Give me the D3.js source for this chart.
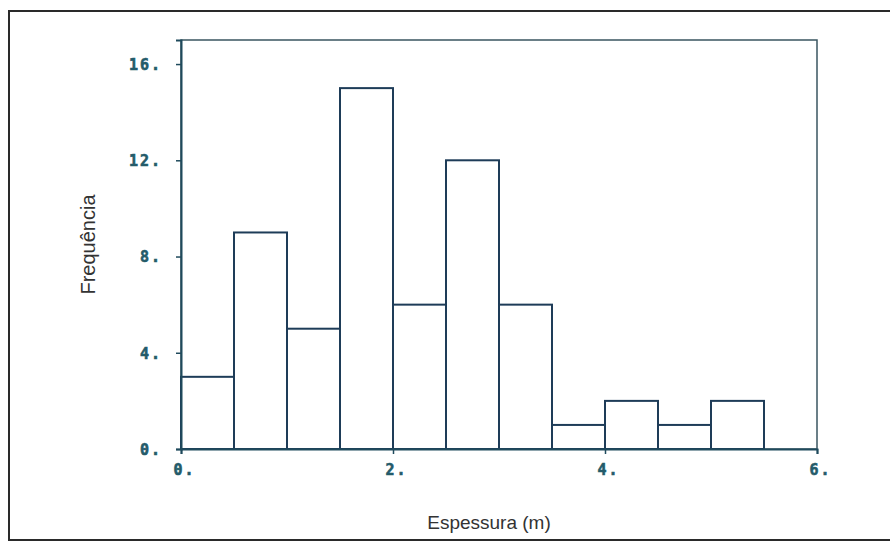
<!DOCTYPE html>
<html>
<head>
<meta charset="utf-8">
<script src="https://cdn.jsdelivr.net/npm/d3@7"></script>
<style>
  html, body { margin: 0; padding: 0; background: #ffffff; }
  svg { display: block; }
</style>
</head>
<body>
<svg id="chart" width="890" height="542"></svg>
<script>
// Histogram bins (thickness in metres) and their counts
const binStarts = [0, 0.5, 1.0, 1.5, 2.0, 2.5, 3.0, 3.5, 4.0, 4.5, 5.0];
const binWidth = 0.5;
const counts = [3, 9, 5, 15, 6, 12, 6, 1, 2, 1, 2];
const xTicks = [0, 2, 4, 6];
const yTicks = [0, 4, 8, 12, 16];
const xTitle = "Espessura (m)";
const yTitle = "Frequência";

const svg = d3.select("#chart");
const plot = { left: 181, right: 817, top: 40, bottom: 449 };

const x = d3.scaleLinear().domain([0, 6]).range([plot.left, plot.right]);
const y = d3.scaleLinear().domain([0, 17]).range([plot.bottom, plot.top]);

const inkAxis = "#1f4a5c";
const inkLabel = "#245b6a";

// outer frame (runs off the right edge)
svg.append("rect")
  .attr("x", 9).attr("y", 11)
  .attr("width", 900).attr("height", 529)
  .attr("fill", "none").attr("stroke", "#2a2a2a").attr("stroke-width", 2);

// plot box
svg.append("rect")
  .attr("x", plot.left).attr("y", plot.top)
  .attr("width", plot.right - plot.left).attr("height", plot.bottom - plot.top)
  .attr("fill", "none").attr("stroke", "#3a5560").attr("stroke-width", 1.5);

// bars
svg.append("g").selectAll("rect")
  .data(counts)
  .join("rect")
  .attr("x", (d, i) => x(binStarts[i]))
  .attr("y", d => y(d))
  .attr("width", (d, i) => x(binStarts[i] + binWidth) - x(binStarts[i]))
  .attr("height", d => y(0) - y(d))
  .attr("fill", "none")
  .attr("stroke", "#1e3c58")
  .attr("stroke-width", 2);

const fmt = d => d + ".";

// y axis
const yAxis = svg.append("g")
  .attr("transform", `translate(${plot.left},0)`)
  .call(d3.axisLeft(y).tickValues(yTicks).tickFormat(fmt).tickSize(5).tickPadding(14));
// x axis
const xAxis = svg.append("g")
  .attr("transform", `translate(0,${plot.bottom})`)
  .call(d3.axisBottom(x).tickValues(xTicks).tickFormat(fmt).tickSize(5).tickPadding(10));

[yAxis, xAxis].forEach(g => {
  g.select(".domain").attr("stroke", inkAxis).attr("stroke-width", 2);
  g.selectAll(".tick line").attr("stroke", inkAxis).attr("stroke-width", 1.5);
  g.selectAll(".tick text")
    .attr("fill", inkLabel)
    .attr("stroke", inkLabel)
    .attr("stroke-width", 0.6)
    .attr("font-family", "'DejaVu Sans Mono', 'Liberation Mono', monospace")
    .attr("font-weight", "bold")
    .attr("font-size", 15)
    .attr("letter-spacing", 2);
});
yAxis.selectAll(".tick text").attr("dy", "0.36em");
xAxis.selectAll(".tick text").attr("dx", 3);

// axis titles
svg.append("text")
  .attr("x", 489).attr("y", 529)
  .attr("text-anchor", "middle")
  .attr("font-family", "'Liberation Sans', Arial, sans-serif")
  .attr("font-size", 19)
  .attr("fill", "#333")
  .text(xTitle);

svg.append("text")
  .attr("transform", `translate(95,${(plot.top + plot.bottom) / 2}) rotate(-90)`)
  .attr("text-anchor", "middle")
  .attr("font-family", "'Liberation Sans', Arial, sans-serif")
  .attr("font-size", 20)
  .attr("fill", "#333")
  .text(yTitle);
</script>
</body>
</html>
